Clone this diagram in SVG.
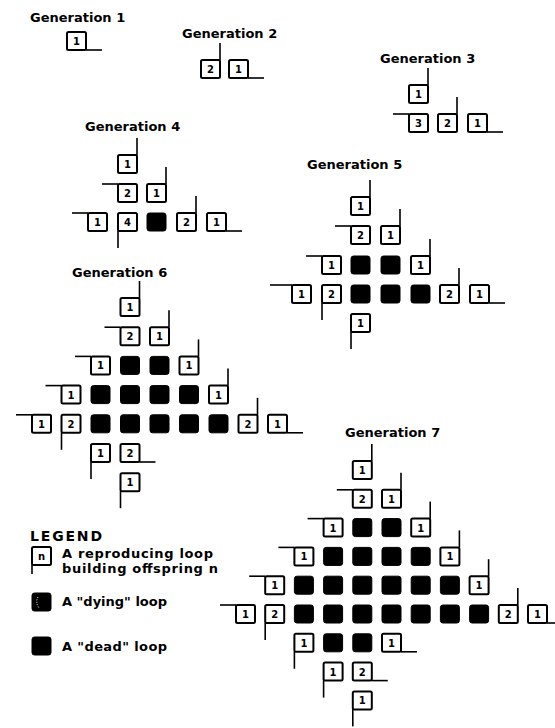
<svg xmlns="http://www.w3.org/2000/svg" width="555" height="728" viewBox="0 0 555 728">
<defs>
<style>
.t{font-family:"DejaVu Sans","Liberation Sans",sans-serif;font-weight:bold;font-size:13px;fill:#000}
.l{font-family:"DejaVu Sans","Liberation Sans",sans-serif;font-weight:bold;font-size:13px;fill:#000}
.n{font-family:"DejaVu Sans","Liberation Sans",sans-serif;font-weight:bold;font-size:10px;fill:#000;text-anchor:middle}
.c{fill:#fff;stroke:#000;stroke-width:2}
.d{fill:#000;stroke:#000;stroke-width:1}
.a{fill:none;stroke:#000;stroke-width:1.6}
</style>
<g id="box"><rect class="c" x="0" y="0" width="19" height="18" rx="1.5"/></g>
<rect id="dead" class="d" x="0" y="0" width="19" height="18" rx="2.5"/>
<path id="up" class="a" d="M19 0V-17"/>
<path id="lf" class="a" d="M0 0H-16"/>
<path id="rt" class="a" d="M19 18H35"/>
<path id="dn" class="a" d="M0 18V35"/>
</defs>
<rect width="555" height="728" fill="#fff"/>

<g id="labels">
<text class="t" x="30" y="22">Generation 1</text>
<text class="t" x="182" y="38">Generation 2</text>
<text class="t" x="380" y="63">Generation 3</text>
<text class="t" x="85" y="131">Generation 4</text>
<text class="t" x="307" y="169">Generation 5</text>
<text class="t" x="72" y="277">Generation 6</text>
<text class="t" x="345" y="437">Generation 7</text>
</g>

<g id="connectors"></g>

<g id="gen1">
<g id="g1a" transform="translate(67,32)"><use href="#box"/><text class="n" x="9.5" y="13">1</text><use href="#rt"/></g>
</g>

<g id="gen2">
<g id="g2a" transform="translate(201,60)"><use href="#box"/><text class="n" x="9.5" y="13">2</text><use href="#up"/></g>
<g id="g2b" transform="translate(229,60)"><use href="#box"/><text class="n" x="9.5" y="13">1</text><use href="#rt"/></g>
</g>

<g id="gen3">
<g id="g3a" transform="translate(409,85)"><use href="#box"/><text class="n" x="9.5" y="13">1</text><use href="#up"/></g>
<g id="g3b" transform="translate(409,114)"><use href="#box"/><text class="n" x="9.5" y="13">3</text><use href="#lf"/></g>
<g id="g3c" transform="translate(438,114)"><use href="#box"/><text class="n" x="9.5" y="13">2</text><use href="#up"/></g>
<g id="g3d" transform="translate(468,114)"><use href="#box"/><text class="n" x="9.5" y="13">1</text><use href="#rt"/></g>
</g>

<g id="gen4">
<g id="g4a" transform="translate(118,155)"><use href="#box"/><text class="n" x="9.5" y="13">1</text><use href="#up"/></g>
<g id="g4b" transform="translate(118,184)"><use href="#box"/><text class="n" x="9.5" y="13">2</text><use href="#lf"/></g>
<g id="g4c" transform="translate(147,184)"><use href="#box"/><text class="n" x="9.5" y="13">1</text><use href="#up"/></g>
<g id="g4d" transform="translate(88,213)"><use href="#box"/><text class="n" x="9.5" y="13">1</text><use href="#lf"/></g>
<g id="g4e" transform="translate(118,213)"><use href="#box"/><text class="n" x="9.5" y="13">4</text><use href="#dn"/></g>
<g id="g4f" transform="translate(147,213)"><use href="#dead"/></g>
<g id="g4g" transform="translate(177,213)"><use href="#box"/><text class="n" x="9.5" y="13">2</text><use href="#up"/></g>
<g id="g4h" transform="translate(207,213)"><use href="#box"/><text class="n" x="9.5" y="13">1</text><use href="#rt"/></g>
</g>

<g id="gen5">
<g id="g5a" transform="translate(351,197)"><use href="#box"/><text class="n" x="9.5" y="13">1</text><use href="#up"/></g>
<g id="g5b" transform="translate(351,226)"><use href="#box"/><text class="n" x="9.5" y="13">2</text><use href="#lf"/></g>
<g id="g5c" transform="translate(381,226)"><use href="#box"/><text class="n" x="9.5" y="13">1</text><use href="#up"/></g>
<g id="g5d" transform="translate(322,256)"><use href="#box"/><text class="n" x="9.5" y="13">1</text><use href="#lf"/></g>
<g id="g5e" transform="translate(351,256)"><use href="#dead"/></g>
<g id="g5f" transform="translate(381,256)"><use href="#dead"/></g>
<g id="g5g" transform="translate(411,256)"><use href="#box"/><text class="n" x="9.5" y="13">1</text><use href="#up"/></g>
<g id="g5h" transform="translate(292,285)"><use href="#box"/><text class="n" x="9.5" y="13">1</text><path class="a" d="M0 0H-22"/></g>
<g id="g5i" transform="translate(322,285)"><use href="#box"/><text class="n" x="9.5" y="13">2</text><use href="#dn"/></g>
<g id="g5j" transform="translate(351,285)"><use href="#dead"/></g>
<g id="g5k" transform="translate(381,285)"><use href="#dead"/></g>
<g id="g5l" transform="translate(411,285)"><use href="#dead"/></g>
<g id="g5m" transform="translate(440,285)"><use href="#box"/><text class="n" x="9.5" y="13">2</text><use href="#up"/></g>
<g id="g5n" transform="translate(470,285)"><use href="#box"/><text class="n" x="9.5" y="13">1</text><use href="#rt"/></g>
<g id="g5o" transform="translate(351,314)"><use href="#box"/><text class="n" x="9.5" y="13">1</text><use href="#dn"/></g>
</g>

<g id="gen6">
<g id="g6a" transform="translate(120.5,298)"><use href="#box"/><text class="n" x="9.5" y="13">1</text><use href="#up"/></g>
<g id="g6b" transform="translate(120.5,327.2)"><use href="#box"/><text class="n" x="9.5" y="13">2</text><use href="#lf"/></g>
<g id="g6c" transform="translate(150,327.2)"><use href="#box"/><text class="n" x="9.5" y="13">1</text><use href="#up"/></g>
<g id="g6d" transform="translate(91,356.4)"><use href="#box"/><text class="n" x="9.5" y="13">1</text><use href="#lf"/></g>
<g id="g6e" transform="translate(120.5,356.4)"><use href="#dead"/></g>
<g id="g6f" transform="translate(150,356.4)"><use href="#dead"/></g>
<g id="g6g" transform="translate(179.5,356.4)"><use href="#box"/><text class="n" x="9.5" y="13">1</text><use href="#up"/></g>
<g id="g6h" transform="translate(61.5,385.6)"><use href="#box"/><text class="n" x="9.5" y="13">1</text><use href="#lf"/></g>
<g id="g6i" transform="translate(91,385.6)"><use href="#dead"/></g>
<g id="g6j" transform="translate(120.5,385.6)"><use href="#dead"/></g>
<g id="g6k" transform="translate(150,385.6)"><use href="#dead"/></g>
<g id="g6l" transform="translate(179.5,385.6)"><use href="#dead"/></g>
<g id="g6m" transform="translate(209,385.6)"><use href="#box"/><text class="n" x="9.5" y="13">1</text><use href="#up"/></g>
<g id="g6n" transform="translate(32,414.8)"><use href="#box"/><text class="n" x="9.5" y="13">1</text><use href="#lf"/></g>
<g id="g6o" transform="translate(61.5,414.8)"><use href="#box"/><text class="n" x="9.5" y="13">2</text><use href="#dn"/></g>
<g id="g6p" transform="translate(91,414.8)"><use href="#dead"/></g>
<g id="g6q" transform="translate(120.5,414.8)"><use href="#dead"/></g>
<g id="g6r" transform="translate(150,414.8)"><use href="#dead"/></g>
<g id="g6s" transform="translate(179.5,414.8)"><use href="#dead"/></g>
<g id="g6t" transform="translate(209,414.8)"><use href="#dead"/></g>
<g id="g6u" transform="translate(238.5,414.8)"><use href="#box"/><text class="n" x="9.5" y="13">2</text><use href="#up"/></g>
<g id="g6v" transform="translate(268,414.8)"><use href="#box"/><text class="n" x="9.5" y="13">1</text><use href="#rt"/></g>
<g id="g6w" transform="translate(91,444)"><use href="#box"/><text class="n" x="9.5" y="13">1</text><use href="#dn"/></g>
<g id="g6x" transform="translate(120.5,444)"><use href="#box"/><text class="n" x="9.5" y="13">2</text><use href="#rt"/></g>
<g id="g6y" transform="translate(120.5,473.2)"><use href="#box"/><text class="n" x="9.5" y="13">1</text><use href="#dn"/></g>
</g>

<g id="gen7">
<g id="g7a" transform="translate(352.8,461)"><use href="#box"/><text class="n" x="9.5" y="13">1</text><use href="#up"/></g>
<g id="g7b" transform="translate(352.8,489.8)"><use href="#box"/><text class="n" x="9.5" y="13">2</text><use href="#lf"/></g>
<g id="g7c" transform="translate(382,489.8)"><use href="#box"/><text class="n" x="9.5" y="13">1</text><use href="#up"/></g>
<g id="g7d" transform="translate(323.6,518.6)"><use href="#box"/><text class="n" x="9.5" y="13">1</text><use href="#lf"/></g>
<g id="g7e" transform="translate(352.8,518.6)"><use href="#dead"/></g>
<g id="g7f" transform="translate(382,518.6)"><use href="#dead"/></g>
<g id="g7g" transform="translate(411.2,518.6)"><use href="#box"/><text class="n" x="9.5" y="13">1</text><use href="#up"/></g>
<g id="g7h" transform="translate(294.4,547.4)"><use href="#box"/><text class="n" x="9.5" y="13">1</text><use href="#lf"/></g>
<g id="g7i" transform="translate(323.6,547.4)"><use href="#dead"/></g>
<g id="g7j" transform="translate(352.8,547.4)"><use href="#dead"/></g>
<g id="g7k" transform="translate(382,547.4)"><use href="#dead"/></g>
<g id="g7l" transform="translate(411.2,547.4)"><use href="#dead"/></g>
<g id="g7m" transform="translate(440.4,547.4)"><use href="#box"/><text class="n" x="9.5" y="13">1</text><use href="#up"/></g>
<g id="g7n" transform="translate(265.2,576.2)"><use href="#box"/><text class="n" x="9.5" y="13">1</text><use href="#lf"/></g>
<g id="g7o" transform="translate(294.4,576.2)"><use href="#dead"/></g>
<g id="g7p" transform="translate(323.6,576.2)"><use href="#dead"/></g>
<g id="g7q" transform="translate(352.8,576.2)"><use href="#dead"/></g>
<g id="g7r" transform="translate(382,576.2)"><use href="#dead"/></g>
<g id="g7s" transform="translate(411.2,576.2)"><use href="#dead"/></g>
<g id="g7t" transform="translate(440.4,576.2)"><use href="#dead"/></g>
<g id="g7u" transform="translate(469.6,576.2)"><use href="#box"/><text class="n" x="9.5" y="13">1</text><use href="#up"/></g>
<g id="g7v" transform="translate(236,605)"><use href="#box"/><text class="n" x="9.5" y="13">1</text><use href="#lf"/></g>
<g id="g7w" transform="translate(265.2,605)"><use href="#box"/><text class="n" x="9.5" y="13">2</text><use href="#dn"/></g>
<g id="g7x" transform="translate(294.4,605)"><use href="#dead"/></g>
<g id="g7y" transform="translate(323.6,605)"><use href="#dead"/></g>
<g id="g7z" transform="translate(352.8,605)"><use href="#dead"/></g>
<g id="g7aa" transform="translate(382,605)"><use href="#dead"/></g>
<g id="g7ab" transform="translate(411.2,605)"><use href="#dead"/></g>
<g id="g7ac" transform="translate(440.4,605)"><use href="#dead"/></g>
<g id="g7ad" transform="translate(469.6,605)"><use href="#dead"/></g>
<g id="g7ae" transform="translate(498.8,605)"><use href="#box"/><text class="n" x="9.5" y="13">2</text><use href="#up"/></g>
<g id="g7af" transform="translate(528,605)"><use href="#box"/><text class="n" x="9.5" y="13">1</text><use href="#rt"/></g>
<g id="g7ag" transform="translate(294.4,633.8)"><use href="#box"/><text class="n" x="9.5" y="13">1</text><use href="#dn"/></g>
<g id="g7ah" transform="translate(323.6,633.8)"><use href="#dead"/></g>
<g id="g7ai" transform="translate(352.8,633.8)"><use href="#dead"/></g>
<g id="g7aj" transform="translate(382,633.8)"><use href="#box"/><text class="n" x="9.5" y="13">1</text><use href="#rt"/></g>
<g id="g7ak" transform="translate(323.6,662.6)"><use href="#box"/><text class="n" x="9.5" y="13">1</text><use href="#dn"/></g>
<g id="g7al" transform="translate(352.8,662.6)"><use href="#box"/><text class="n" x="9.5" y="13">2</text><use href="#rt"/></g>
<g id="g7am" transform="translate(352.8,691.4)"><use href="#box"/><text class="n" x="9.5" y="13">1</text><use href="#dn"/></g>
</g>

<g id="legend">
<text class="l" x="30" y="541" font-size="14" style="font-size:14px" textLength="72" lengthAdjust="spacing">LEGEND</text>
<g id="leg-repro" transform="translate(32,547)"><use href="#box"/><text class="n" x="9.5" y="13">n</text><path class="a" d="M0 18V27"/></g>
<text class="l" x="62" y="558" textLength="151" lengthAdjust="spacing">A reproducing loop</text>
<text class="l" x="62" y="573" textLength="156" lengthAdjust="spacing">building offspring n</text>
<g id="leg-dying" transform="translate(32,593)"><use href="#dead"/><path d="M6 4q-3 5 1 11" fill="none" stroke="#fff" stroke-width="1" stroke-dasharray="1 1.5"/></g>
<text class="l" x="62" y="606" textLength="105" lengthAdjust="spacing">A "dying" loop</text>
<g id="leg-dead" transform="translate(32,637)"><use href="#dead"/></g>
<text class="l" x="62" y="651" textLength="105" lengthAdjust="spacing">A "dead" loop</text>
</g>
</svg>
